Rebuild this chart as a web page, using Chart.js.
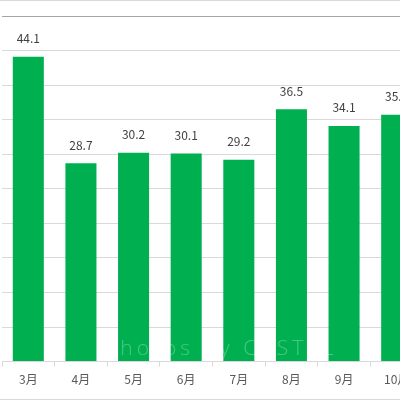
<!DOCTYPE html>
<html><head><meta charset="utf-8">
<script src="https://cdn.jsdelivr.net/npm/chart.js@4"></script>
<style>
html,body{margin:0;padding:0;background:#fff;overflow:hidden;width:400px;height:400px;}
#frame{position:absolute;left:0;top:0;width:400px;height:398px;border-top:1px solid #d9d9d9;border-bottom:1px solid #d9d9d9;overflow:hidden;}
#wrap{position:absolute;left:0;top:0;width:440px;height:398px;}
</style></head>
<body>
<div id="frame"><div id="wrap"><canvas id="c"></canvas></div></div>
<script>
const categories = ['3月','4月','5月','6月','7月','8月','9月','10月'];
const values = [44.1, 28.7, 30.2, 30.1, 29.2, 36.5, 34.1, 35.7];
const yMin = 0, yMax = 50, yStep = 5;
const watermark = 'Photos by CASTEL';

const labelPlugin = {
  id: 'valueLabels',
  afterDatasetsDraw(chart) {
    const ctx = chart.ctx;
    const meta = chart.getDatasetMeta(0);
    ctx.save();
    ctx.font = '12px "Noto Sans CJK JP", "Noto Sans", sans-serif';
    ctx.fillStyle = '#404040';
    ctx.textAlign = 'center';
    ctx.textBaseline = 'middle';
    meta.data.forEach((bar, i) => {
      ctx.fillText(values[i].toFixed(1), bar.x, bar.y - 18);
    });
    ctx.restore();
  }
};
const watermarkPlugin = {
  id: 'watermark',
  afterDraw(chart) {
    const ctx = chart.ctx;
    ctx.save();
    ctx.font = '300 21px "Open Sans", sans-serif';
    ctx.letterSpacing = '4px';
    ctx.fillStyle = 'rgba(255,255,255,0.28)';
    ctx.textAlign = 'left';
    ctx.textBaseline = 'alphabetic';
    ctx.fillText(watermark, 104, 354);
    ctx.restore();
  }
};

new Chart(document.getElementById('c'), {
  type: 'bar',
  data: {
    labels: categories,
    datasets: [{
      data: values,
      backgroundColor: '#00B050',
      borderWidth: 0,
      categoryPercentage: 1,
      barPercentage: 0.59
    }]
  },
  options: {
    responsive: true,
    maintainAspectRatio: false,
    animation: false,
    layout: { padding: { left: 2, right: 17, top: 15, bottom: 6 } },
    plugins: { legend: { display: false }, tooltip: { enabled: false } },
    scales: {
      x: {
        grid: { offset: true, drawOnChartArea: false, drawTicks: true, tickLength: 5, color: '#d9d9d9' },
        border: { display: true, color: '#d9d9d9' },
        ticks: { color: '#595959', font: { size: 12, family: '"Noto Sans CJK JP", sans-serif' }, padding: 6, maxRotation: 0 }
      },
      y: {
        min: yMin, max: yMax,
        ticks: { display: false, stepSize: yStep },
        border: { display: false },
        grid: {
          drawTicks: false,
          color: (c) => (c.tick && c.tick.value === yMax) ? '#a6a6a6' : '#d9d9d9'
        }
      }
    }
  },
  plugins: [labelPlugin, watermarkPlugin]
});
</script>
</body></html>
